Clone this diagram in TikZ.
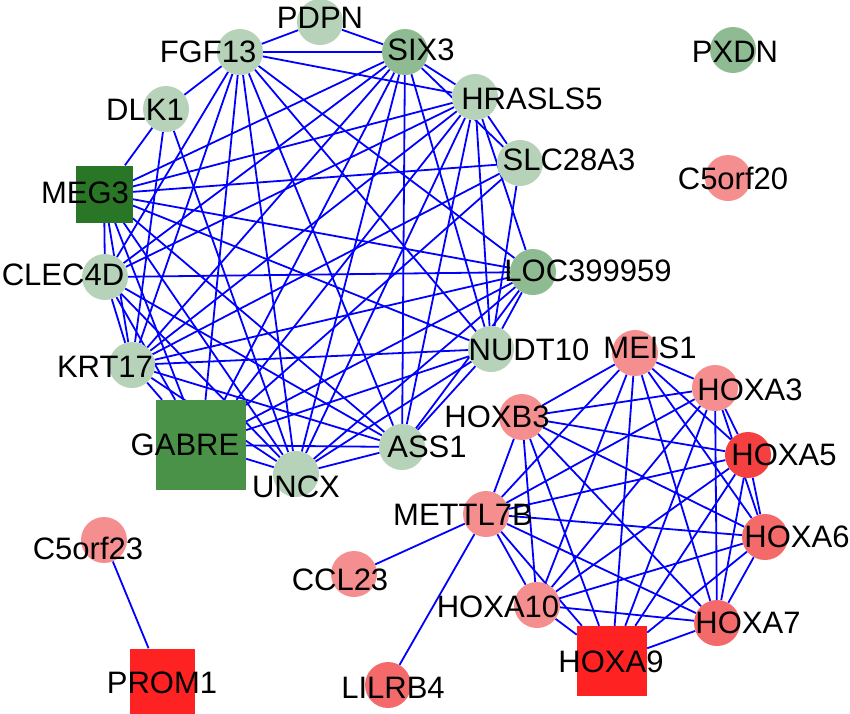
\documentclass[tikz,border=0pt]{standalone}
\usepackage{fontspec}
\setmainfont{Liberation Sans}
\usetikzlibrary{backgrounds}
\definecolor{lgreen}{RGB}{182,211,185}
\definecolor{mgreen}{RGB}{143,187,146}
\definecolor{dgreen}{RGB}{40,118,38}
\definecolor{ggreen}{RGB}{74,146,71}
\definecolor{lred}{RGB}{245,143,143}
\definecolor{mred}{RGB}{244,106,106}
\definecolor{sred}{RGB}{244,64,64}
\definecolor{hred}{RGB}{255,34,34}

\begin{document}
\begin{tikzpicture}[x=1pt,y=-1pt,
  gene/.style={circle,minimum size=46pt,inner sep=0pt,fill=#1},
  sqgene/.style={rectangle,inner sep=0pt,fill=#1},
  lbl/.style={font=\fontsize{31}{31}\selectfont,inner sep=0pt},
  link/.style={blue,line width=1.8pt}]
  \useasboundingbox (0,0) rectangle (850,713);

  % upper module
  \node[gene=lgreen] (pd) at (320,22) {};
  \node[gene=lgreen] (fg) at (240,52) {};
  \node[gene=mgreen] (sx) at (405,52) {};
  \node[gene=lgreen] (hr) at (475,97) {};
  \node[gene=lgreen] (sl) at (520,163) {};
  \node[gene=mgreen] (lo) at (533,272) {};
  \node[gene=lgreen] (nu) at (491,349) {};
  \node[gene=lgreen] (as) at (402,447) {};
  \node[gene=lgreen] (un) at (296,474) {};
  \node[sqgene=ggreen,minimum size=90pt] (ga) at (201,445) {};
  \node[gene=lgreen] (kr) at (132,365) {};
  \node[gene=lgreen] (cl) at (105,277) {};
  \node[sqgene=dgreen,minimum size=57pt] (meg) at (104,194) {};
  \node[gene=lgreen] (dl) at (166,109) {};

  % lower module
  \node[gene=lred] (ms) at (635,353) {};
  \node[gene=lred] (a3) at (715,388) {};
  \node[gene=sred] (a5) at (748,455) {};
  \node[gene=mred] (a6) at (765,537) {};
  \node[gene=mred] (a7) at (717,623) {};
  \node[sqgene=hred,minimum size=70pt] (a9) at (612,661) {};
  \node[gene=lred] (a10) at (537,605) {};
  \node[gene=lred] (mt) at (486,514) {};
  \node[gene=lred] (b3) at (522,417) {};

  % the rest
  \node[gene=mgreen] (px) at (733,50) {};
  \node[gene=lred] (c20) at (728,178) {};
  \node[gene=lred] (c23) at (104,540) {};
  \node[sqgene=hred,minimum size=65pt] (pr) at (162,681) {};
  \node[gene=lred] (ccl) at (354,574) {};
  \node[gene=mred] (li) at (388,685) {};

  \begin{scope}[on background layer]
    \foreach \a/\b in {pd/fg,pd/sx,
      fg/sx,fg/hr,fg/dl,fg/lo,fg/nu,fg/as,fg/un,fg/ga,fg/kr,fg/cl,
      sx/hr,sx/sl,sx/meg,sx/cl,sx/kr,sx/ga,sx/un,sx/as,sx/nu,
      hr/sl,hr/lo,hr/nu,hr/as,hr/un,hr/ga,hr/kr,hr/cl,hr/meg,
      sl/nu,sl/ga,sl/kr,sl/meg,
      lo/nu,lo/as,lo/un,lo/ga,lo/kr,lo/cl,lo/meg,
      nu/as,nu/un,nu/ga,nu/kr,nu/meg,
      as/un,as/ga,as/kr,as/cl,as/meg,
      un/ga,un/kr,un/cl,un/meg,un/dl,
      ga/kr,ga/cl,ga/meg,
      kr/cl,kr/meg,kr/dl,
      cl/meg,meg/dl}
      \draw[link] (\a) -- (\b);
    \foreach \a [count=\i] in {ms,a3,a5,a6,a7,a9,a10,mt,b3} {
      \foreach \b [count=\j] in {ms,a3,a5,a6,a7,a9,a10,mt,b3} {
        \ifnum\j>\i \draw[link] (\a) -- (\b); \fi
      }
    }
    \draw[link] (mt) -- (ccl);
    \draw[link] (mt) -- (li);
    \draw[link] (c23) -- (pr);
  \end{scope}

  % labels
  \node[lbl] (pd-t) at (320,18) {PDPN};
  \node[lbl] (fg-t) at (208,52) {FGF13};
  \node[lbl] (sx-t) at (421,50) {SIX3};
  \node[lbl] (hr-t) at (532,99) {HRASLS5};
  \node[lbl] (sl-t) at (569,160) {SLC28A3};
  \node[lbl] (lo-t) at (588,271) {LOC399959};
  \node[lbl] (nu-t) at (529,350) {NUDT10};
  \node[lbl] (as-t) at (427,447) {ASS1};
  \node[lbl] (un-t) at (296,487) {UNCX};
  \node[lbl] (ga-t) at (185,445) {GABRE};
  \node[lbl] (kr-t) at (105,367) {KRT17};
  \node[lbl] (cl-t) at (63,275) {CLEC4D};
  \node[lbl] (meg-t) at (85,193) {MEG3};
  \node[lbl] (dl-t) at (145,110) {DLK1};
  \node[lbl] (ms-t) at (650,348) {MEIS1};
  \node[lbl] (a3-t) at (750,390) {HOXA3};
  \node[lbl] (a5-t) at (784,455) {HOXA5};
  \node[lbl] (a6-t) at (797,537) {HOXA6};
  \node[lbl] (a7-t) at (748,623) {HOXA7};
  \node[lbl] (a9-t) at (611,662) {HOXA9};
  \node[lbl] (a10-t) at (498,607) {HOXA10};
  \node[lbl] (mt-t) at (463,515) {METTL7B};
  \node[lbl] (b3-t) at (497,417) {HOXB3};
  \node[lbl] (px-t) at (735,52) {PXDN};
  \node[lbl] (c20-t) at (733,178) {C5orf20};
  \node[lbl] (c23-t) at (88,548) {C5orf23};
  \node[lbl] (pr-t) at (162,683) {PROM1};
  \node[lbl] (ccl-t) at (340,580) {CCL23};
  \node[lbl] (li-t) at (393,688) {LILRB4};
\end{tikzpicture}
\end{document}
